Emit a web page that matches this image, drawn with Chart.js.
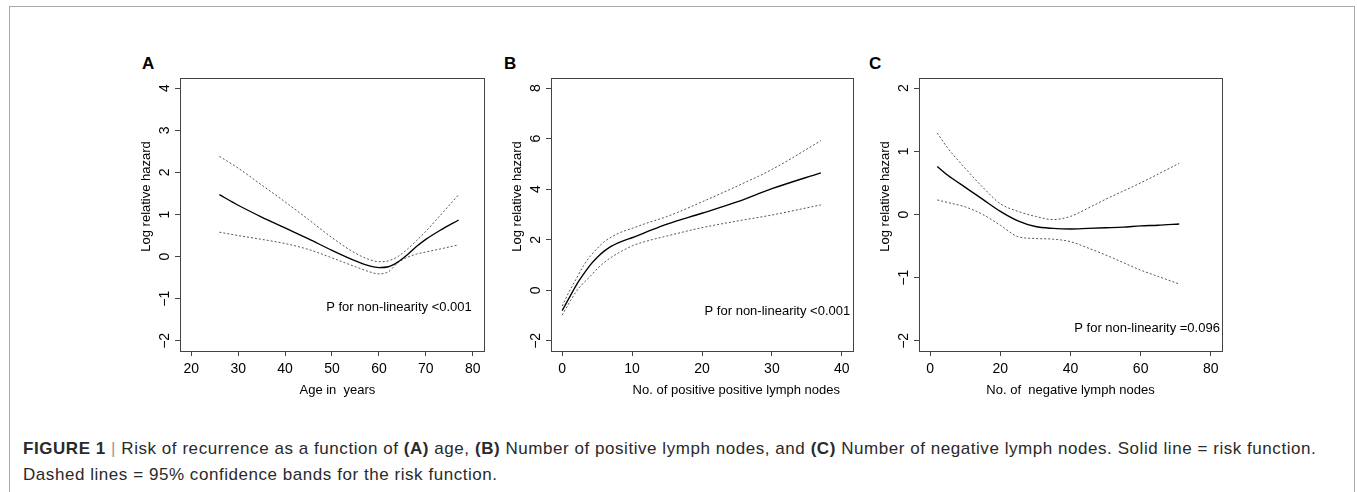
<!DOCTYPE html>
<html>
<head>
<meta charset="utf-8">
<script src="https://cdn.jsdelivr.net/npm/chart.js@4.4.1/dist/chart.umd.min.js"></script>
<style>
    body { margin: 0; background: #fff; width: 1357px; height: 492px; overflow: hidden; position: relative; font-family: "Liberation Sans", Arial, sans-serif; }
    #frame { position: absolute; left: 9px; top: 6px; width: 1344px; height: 500px; border: 1px solid #aaa; border-bottom: none; }
    canvas { position: absolute; }
    .tag { position: absolute; font-weight: bold; font-size: 17px; line-height: 17px; color: #000; }
    #caption { position: absolute; left: 23px; top: 436px; font-size: 17px; letter-spacing: 0.55px; line-height: 26px; color: #2a2a2a; white-space: nowrap; }
    #caption .sep { color: #999; }
</style>
</head>
<body>
<div id="frame"></div>
<div class="tag" style="left:142px;top:55px">A</div>
<div class="tag" style="left:504px;top:55px">B</div>
<div class="tag" style="left:869px;top:55px">C</div>
<canvas id="chartA" width="400" height="345" style="left:100px;top:60px"></canvas>
<canvas id="chartB" width="370" height="345" style="left:500px;top:60px"></canvas>
<canvas id="chartC" width="370" height="345" style="left:870px;top:60px"></canvas>
<div id="caption"><b>FIGURE 1</b> <span class="sep">|</span> Risk of recurrence as a function of <b>(A)</b> age, <b>(B)</b> Number of positive lymph nodes, and <b>(C)</b> Number of negative lymph nodes. Solid line = risk function.<br>Dashed lines = 95% confidence bands for the risk function.</div>
<script>
// Panel A: age
const xTicksA = [20, 30, 40, 50, 60, 70, 80];
const yTicksA = [-2, -1, 0, 1, 2, 3, 4];
const ageYears = [26, 30, 35, 40, 45, 50, 55, 58, 60, 62, 64, 66, 68, 70, 73, 77];
const riskA =  [1.47, 1.22, 0.94, 0.68, 0.42, 0.15, -0.10, -0.22, -0.26, -0.24, -0.13, 0.04, 0.24, 0.41, 0.62, 0.87];
const upperA = [2.38, 2.10, 1.70, 1.30, 0.88, 0.45, 0.08, -0.07, -0.12, -0.10, 0.00, 0.17, 0.38, 0.60, 0.97, 1.47];
const lowerA = [0.58, 0.50, 0.41, 0.31, 0.17, -0.03, -0.24, -0.36, -0.41, -0.36, -0.15, -0.02, 0.06, 0.11, 0.18, 0.28];

// Panel B: positive lymph nodes
const xTicksB = [0, 10, 20, 30, 40];
const yTicksB = [-2, 0, 2, 4, 6, 8];
const posNodes = [0, 1, 2, 3, 4, 5, 6, 7, 8, 9, 10, 12, 15, 20, 25, 30, 37];
const riskB =  [-0.80, -0.30, 0.20, 0.62, 1.00, 1.30, 1.55, 1.74, 1.88, 1.99, 2.08, 2.30, 2.62, 3.05, 3.50, 4.02, 4.65];
const upperB = [-0.62, -0.05, 0.45, 0.95, 1.35, 1.65, 1.92, 2.10, 2.25, 2.36, 2.45, 2.65, 2.92, 3.50, 4.12, 4.78, 5.92];
const lowerB = [-0.98, -0.50, -0.05, 0.28, 0.55, 0.85, 1.10, 1.30, 1.47, 1.62, 1.76, 1.94, 2.15, 2.48, 2.74, 2.98, 3.38];

// Panel C: negative lymph nodes
const xTicksC = [0, 20, 40, 60, 80];
const yTicksC = [-2, -1, 0, 1, 2];
const negNodes = [2, 5, 10, 15, 20, 25, 30, 35, 40, 45, 50, 55, 60, 65, 71];
const riskC =  [0.76, 0.62, 0.43, 0.24, 0.05, -0.10, -0.19, -0.22, -0.23, -0.22, -0.21, -0.20, -0.18, -0.17, -0.15];
const upperC = [1.29, 1.05, 0.73, 0.43, 0.17, 0.05, -0.03, -0.08, -0.03, 0.10, 0.24, 0.37, 0.50, 0.64, 0.81];
const lowerC = [0.23, 0.19, 0.12, 0.00, -0.17, -0.35, -0.38, -0.39, -0.43, -0.53, -0.64, -0.76, -0.88, -0.98, -1.10];

const FONT = '"Liberation Sans", Arial, sans-serif';
const AXIS_COLOR = '#444';

// R style: 4% extra on each side of the tick range
function rRange(ticks) {
    const lo = ticks[0], hi = ticks[ticks.length - 1];
    const d = (hi - lo) * 0.04;
    return [lo - d, hi + d];
}

function points(xs, ys) {
    return xs.map((x, i) => ({ x: x, y: ys[i] }));
}

const spaces = n => '\u00a0'.repeat(n);

// box around the plot region
const boxPlugin = {
    id: 'box',
    afterDraw(chart) {
        const { ctx, chartArea: a } = chart;
        ctx.save();
        ctx.strokeStyle = AXIS_COLOR;
        ctx.lineWidth = 1;
        ctx.strokeRect(Math.round(a.left) + 0.5, Math.round(a.top) + 0.5,
            Math.round(a.right - a.left), Math.round(a.bottom - a.top));
        ctx.restore();
    }
};

// "P for non-linearity" note
const notePlugin = {
    id: 'note',
    afterDatasetsDraw(chart, args, opts) {
        const { ctx, scales: { x, y } } = chart;
        ctx.save();
        ctx.font = '13px ' + FONT;
        ctx.fillStyle = '#000';
        ctx.textAlign = 'right';
        ctx.textBaseline = 'middle';
        ctx.fillText(opts.text, x.getPixelForValue(opts.x), y.getPixelForValue(opts.y));
        ctx.restore();
    }
};

function makePanel(p) {
    const canvas = document.getElementById(p.canvasId);
    const ctx = canvas.getContext('2d');
    const xr = rRange(p.xTicks);
    const yr = rRange(p.yTicks);

    return new Chart(ctx, {
        type: 'scatter',
        data: {
            datasets: [
                { data: points(p.xs, p.upper), borderColor: '#555', borderWidth: 1, borderDash: [2, 2] },
                { data: points(p.xs, p.lower), borderColor: '#555', borderWidth: 1, borderDash: [2, 2] },
                { data: points(p.xs, p.risk), borderColor: '#000', borderWidth: 1.35 }
            ].map(ds => Object.assign(ds, {
                showLine: true, pointRadius: 0, fill: false, cubicInterpolationMode: 'monotone'
            }))
        },
        options: {
            responsive: false,
            animation: false,
            devicePixelRatio: 1,
            layout: { padding: { top: 18, right: p.padRight, left: 0, bottom: 0 } },
            plugins: {
                legend: { display: false },
                tooltip: { enabled: false },
                note: { text: p.note, x: p.noteX, y: p.noteY }
            },
            scales: {
                x: {
                    type: 'linear',
                    min: xr[0],
                    max: xr[1],
                    afterBuildTicks: s => { s.ticks = p.xTicks.map(v => ({ value: v })); },
                    afterFit: s => { s.height = 54; },
                    grid: { drawOnChartArea: false, tickLength: 5, color: AXIS_COLOR },
                    border: { display: false },
                    ticks: { autoSkip: false, maxRotation: 0, padding: 5, color: '#000', font: { family: FONT, size: 14 } },
                    title: { display: true, text: p.xTitle, color: '#000', font: { family: FONT, size: 13, lineHeight: 1.2 }, padding: { top: 0, bottom: 7 } }
                },
                y: {
                    type: 'linear',
                    min: yr[0],
                    max: yr[1],
                    afterBuildTicks: s => { s.ticks = p.yTicks.map(v => ({ value: v })); },
                    afterFit: s => { s.width = p.yWidth; },
                    grid: { drawOnChartArea: false, tickLength: 5, color: AXIS_COLOR },
                    border: { display: false },
                    ticks: {
                        autoSkip: false, minRotation: 90, maxRotation: 90, crossAlign: 'center', padding: 2,
                        color: '#000', font: { family: FONT, size: 14 },
                        callback: v => String(v).replace('-', '\u2212')
                    },
                    title: { display: true, text: spaces(10) + 'Log relative hazard', color: '#000', font: { family: FONT, size: 13, lineHeight: 1.2 }, padding: { top: p.yTitlePad, bottom: 0 } }
                }
            }
        },
        plugins: [boxPlugin, notePlugin]
    });
}

makePanel({
    canvasId: 'chartA', xTicks: xTicksA, yTicks: yTicksA,
    xs: ageYears, risk: riskA, upper: upperA, lower: lowerA,
    xTitle: spaces(3) + 'Age in\u00a0\u00a0years', yWidth: 80, yTitlePad: 39, padRight: 16,
    note: 'P for non-linearity <0.001', noteX: 79.8, noteY: -1.2
});

makePanel({
    canvasId: 'chartB', xTicks: xTicksB, yTicks: yTicksB,
    xs: posNodes, risk: riskB, upper: upperB, lower: lowerB,
    xTitle: spaces(19) + 'No. of positive positive lymph nodes', yWidth: 51, yTitlePad: 10, padRight: 17,
    note: 'P for non-linearity <0.001', noteX: 41.2, noteY: -0.84
});

makePanel({
    canvasId: 'chartC', xTicks: xTicksC, yTicks: yTicksC,
    xs: negNodes, risk: riskC, upper: upperC, lower: lowerC,
    xTitle: 'No. of\u00a0\u00a0negative lymph nodes', yWidth: 49, yTitlePad: 8, padRight: 18,
    note: 'P for non-linearity =0.096', noteX: 82.6, noteY: -1.8
});
</script>
</body>
</html>
